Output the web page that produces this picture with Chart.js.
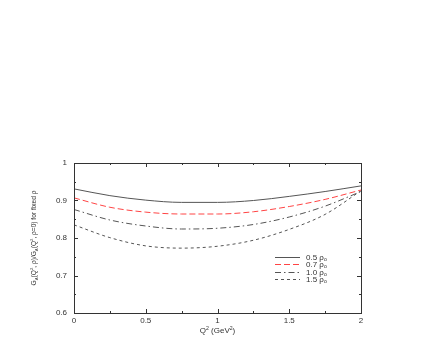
<!DOCTYPE html>
<html>
<head>
<meta charset="utf-8">
<script src="https://cdn.jsdelivr.net/npm/chart.js@4"></script>
<style>
  body { margin: 0; background: #fff; }
  #chart { display: block; }
</style>
</head>
<body>
<canvas id="chart" width="436" height="354" style="width:436px;height:354px"></canvas>
<script>
// data
const xValues = [0, 0.25, 0.5, 0.75, 1.0, 1.25, 1.5, 1.75, 2.0];
const rho05 = [0.931, 0.913, 0.901, 0.895, 0.895, 0.900, 0.911, 0.924, 0.939];
const rho07 = [0.907, 0.882, 0.869, 0.864, 0.864, 0.870, 0.884, 0.903, 0.928];
const rho10 = [0.876, 0.848, 0.832, 0.824, 0.826, 0.836, 0.856, 0.885, 0.924];
const rho15 = [0.835, 0.801, 0.779, 0.773, 0.778, 0.794, 0.823, 0.863, 0.926];
const seriesLabels = ["0.5", "0.7", "1.0", "1.5"];
const xTicks = [0, 0.5, 1, 1.5, 2];
const xTickLabels = ["0", "0.5", "1", "1.5", "2"];
const yTicks = [0.6, 0.7, 0.8, 0.9, 1.0];
const yTickLabels = ["0.6", "0.7", "0.8", "0.9", "1"];

const FONT = "'Liberation Sans', Arial, sans-serif";
const INK = "#333";

function pts(ys) {
  return xValues.map((x, i) => ({ x: x, y: ys[i] }));
}

const styles = [
  { color: "#555", dash: [] },
  { color: "#ff4444", dash: [6, 3] },
  { color: "#555", dash: [6, 3, 1.5, 3] },
  { color: "#555", dash: [3, 3] }
];

// draws text pieces with sub/superscripts, left to right
function drawRich(ctx, parts, x, y, size) {
  let cx = x;
  parts.forEach(p => {
    const s = p.s ? size * 0.65 : size;
    ctx.font = s + "px " + FONT;
    const dy = p.s === "sub" ? size * 0.3 : p.s === "sup" ? -size * 0.4 : 0;
    ctx.fillText(p.t, cx, y + dy);
    cx += ctx.measureText(p.t).width;
  });
  return cx - x;
}

function richWidth(ctx, parts, size) {
  let w = 0;
  parts.forEach(p => {
    const s = p.s ? size * 0.65 : size;
    ctx.font = s + "px " + FONT;
    w += ctx.measureText(p.t).width;
  });
  return w;
}

const framePlugin = {
  id: "frame",
  afterDraw(chart) {
    const ctx = chart.ctx;
    const a = chart.chartArea;
    const xs = chart.scales.x, ys = chart.scales.y;
    ctx.save();
    ctx.strokeStyle = INK;
    ctx.lineWidth = 1;
    ctx.setLineDash([]);
    ctx.strokeRect(a.left + 0.5, a.top + 0.5, a.right - a.left, a.bottom - a.top);

    // inward ticks on all four sides
    ctx.beginPath();
    for (let v = 0; v <= 2.0001; v += 0.25) {
      const px = Math.round(xs.getPixelForValue(v)) + 0.5;
      const len = Math.abs(v * 2 - Math.round(v * 2)) < 1e-6 ? 4 : 2;
      ctx.moveTo(px, a.bottom); ctx.lineTo(px, a.bottom - len);
      ctx.moveTo(px, a.top); ctx.lineTo(px, a.top + len);
    }
    for (let v = 0.6; v <= 1.0001; v += 0.05) {
      const py = Math.round(ys.getPixelForValue(v)) + 0.5;
      const len = Math.abs(v * 10 - Math.round(v * 10)) < 1e-6 ? 4 : 2;
      ctx.moveTo(a.left, py); ctx.lineTo(a.left + len, py);
      ctx.moveTo(a.right, py); ctx.lineTo(a.right - len, py);
    }
    ctx.stroke();

    // tick labels
    ctx.fillStyle = INK;
    ctx.font = "8px " + FONT;
    ctx.textAlign = "center";
    ctx.textBaseline = "top";
    xTicks.forEach((v, i) => ctx.fillText(xTickLabels[i], xs.getPixelForValue(v), a.bottom + 4));
    ctx.textAlign = "right";
    ctx.textBaseline = "middle";
    yTicks.forEach((v, i) => ctx.fillText(yTickLabels[i], a.left - 7, ys.getPixelForValue(v)));

    // x title
    ctx.textAlign = "left";
    ctx.textBaseline = "alphabetic";
    const xt = [{ t: "Q" }, { t: "2", s: "sup" }, { t: " (GeV" }, { t: "2", s: "sup" }, { t: ")" }];
    const xw = richWidth(ctx, xt, 8);
    drawRich(ctx, xt, (a.left + a.right) / 2 - xw / 2, a.bottom + 20, 8);

    // y title (rotated)
    const yt = [{ t: "G" }, { t: "A", s: "sub" }, { t: "(Q" }, { t: "2", s: "sup" }, { t: ", ρ)/G" },
                { t: "A", s: "sub" }, { t: "(Q" }, { t: "2", s: "sup" }, { t: ", ρ=0) for fixed ρ" }];
    ctx.save();
    ctx.translate(36, (a.top + a.bottom) / 2);
    ctx.rotate(-Math.PI / 2);
    const yw = richWidth(ctx, yt, 6.6);
    drawRich(ctx, yt, -yw / 2, 0, 6.6);
    ctx.restore();

    // legend
    const lx0 = 275, lx1 = 300, ly0 = 257, dy = 7.3;
    seriesLabels.forEach((lab, i) => {
      const y = Math.round(ly0 + i * dy) + 0.5;
      ctx.strokeStyle = styles[i].color;
      ctx.setLineDash(styles[i].dash);
      ctx.beginPath();
      ctx.moveTo(lx0, y); ctx.lineTo(lx1, y);
      ctx.stroke();
      ctx.setLineDash([]);
      ctx.fillStyle = INK;
      ctx.textBaseline = "middle";
      drawRich(ctx, [{ t: lab + " ρ" }, { t: "o", s: "sub" }], 306, y, 8);
    });
    ctx.restore();
  }
};

const chart = new Chart(document.getElementById("chart").getContext("2d"), {
  type: "line",
  data: {
    datasets: [rho05, rho07, rho10, rho15].map((ys, i) => ({
      label: seriesLabels[i],
      data: pts(ys),
      borderColor: styles[i].color,
      borderDash: styles[i].dash,
      borderWidth: 1,
      pointRadius: 0,
      fill: false,
      cubicInterpolationMode: "monotone"
    }))
  },
  options: {
    responsive: false,
    animation: false,
    layout: { padding: { left: 74, right: 75, top: 163, bottom: 41 } },
    plugins: { legend: { display: false }, tooltip: { enabled: false } },
    scales: {
      x: { type: "linear", min: 0, max: 2, display: false },
      y: { type: "linear", min: 0.6, max: 1, display: false }
    }
  },
  plugins: [framePlugin]
});
</script>
</body>
</html>
